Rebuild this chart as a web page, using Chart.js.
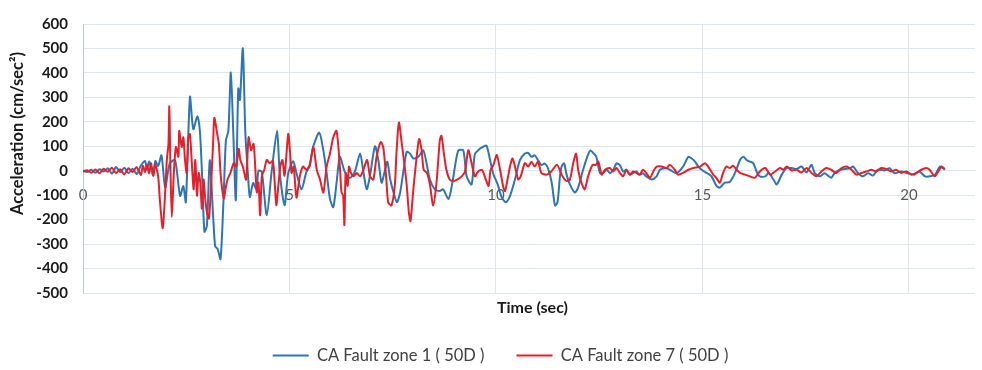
<!DOCTYPE html>
<html>
<head>
<meta charset="utf-8">
<script src="https://cdn.jsdelivr.net/npm/chart.js@4.4.1/dist/chart.umd.min.js"></script>
<style>
  html, body { margin: 0; padding: 0; background: #ffffff; }
  canvas { display: block; }
</style>
</head>
<body>
<canvas id="chart" width="982" height="370"></canvas>
<script>
// Ground-motion records (time in sec, acceleration in cm/sec²)
const seriesNames = ['CA Fault zone 1 ( 50D )', 'CA Fault zone 7 ( 50D )'];

const timeZone1 = [
  0.0, 0.1, 0.2, 0.3, 0.4, 0.5, 0.6, 0.7, 0.8, 0.9, 1.0, 1.1, 1.2, 1.3, 1.4, 1.5, 1.55, 1.6, 1.65, 1.7, 1.75, 1.82,
  1.9, 1.99, 2.1, 2.23, 2.35, 2.43, 2.49, 2.59, 2.67, 2.77, 2.83, 2.88, 2.94, 3.0, 3.07, 3.15, 3.2, 3.26, 3.33,
  3.4, 3.46, 3.52, 3.58, 3.64, 3.7, 3.76, 3.8, 3.87, 3.93, 4.0, 4.04, 4.12, 4.2, 4.25, 4.33, 4.45, 4.57, 4.7,
  4.76, 4.88, 4.97, 5.09, 5.17, 5.29, 5.41, 5.49, 5.57, 5.72, 5.82, 5.9, 5.98, 6.06, 6.14, 6.22, 6.34, 6.46,
  6.58, 6.71, 6.79, 6.87, 6.95, 7.07, 7.15, 7.23, 7.31, 7.37, 7.44, 7.52, 7.6, 7.68, 7.76, 7.84, 7.92, 8.0,
  8.12, 8.24, 8.32, 8.4, 8.52, 8.64, 8.72, 8.85, 8.93, 9.01, 9.09, 9.21, 9.29, 9.41, 9.49, 9.61, 9.69, 9.77,
  9.85, 9.93, 10.05, 10.14, 10.24, 10.34, 10.46, 10.58, 10.7, 10.78, 10.86, 10.94, 11.02, 11.1, 11.18, 11.26,
  11.35, 11.43, 11.49, 11.55, 11.59, 11.65, 11.71, 11.79, 11.91, 11.99, 12.11, 12.21, 12.29, 12.37, 12.43,
  12.52, 12.6, 12.68, 12.76, 12.84, 12.92, 13.0, 13.08, 13.16, 13.24, 13.32, 13.4, 13.48, 13.56, 13.64, 13.77,
  13.89, 13.97, 14.13, 14.21, 14.37, 14.53, 14.66, 14.74, 14.82, 14.9, 14.98, 15.1, 15.22, 15.34, 15.42, 15.54,
  15.66, 15.79, 15.91, 15.99, 16.07, 16.15, 16.23, 16.31, 16.39, 16.52, 16.6, 16.72, 16.8, 16.92, 17.04, 17.16,
  17.28, 17.4, 17.52, 17.64, 17.72, 17.84, 17.96, 18.04, 18.12, 18.2, 18.33, 18.45, 18.57, 18.65, 18.77, 18.89,
  19.01, 19.13, 19.25, 19.41, 19.53, 19.65, 19.81, 19.97, 20.13, 20.25, 20.39, 20.51, 20.63, 20.75, 20.83, 20.87
];
const accZone1 = [
  0, -5, 4, -8, 6, -3, 10, -12, 15, -6, 12, -10, 8, -14, 20, 40, 5, 38, 10, -20, 40, 20,
  63, -69, 30, 43, -103, -63, -129, 302, 170, 223, 163, -5, -249, -225, 43, -181, -308, -320, -361,
  -129, 123, 163, 402, 150, -120, 336, 290, 500, 160, -30, -108, -50, -76, 0, -5, -182, 0, 163,
  0, -141, -10, 39, -10, -76, -5, 20, 96, 156, 83, -10, -115, -149, -50, 57, -5, -30,
  -5, 70, -5, -76, -20, 100, 45, -49, 0, 37, -36, -89, -129, -89, 0, 77, 70, 50,
  57, 83, 30, -36, -76, -83, -76, -116, -63, 20, 83, 83, -23, -56, 68, 90, 98, 103,
  50, -10, -60, -109, -129, -103, -36, 43, 70, 73, 57, 63, 43, 23, 30, 10,
  -49, -142, -129, -23, 17, 30, -16, -56, -89, -69, 4, 57, 83, 70, 57,
  -10, -10, 4, -10, 4, 30, 23, -3, 4, -16, -10, -3, -16, -10, -23, -36,
  -23, 4, 10, 4, -10, 17, 57, 50, 37, 17, 4, -9, -23, -62, -69, -49,
  -46, -9, 44, 57, 44, 37, 31, -3, -23, -23, -9, -36, -56, -16, 11, 11,
  7, 17, -7, 24, -10, -23, -10, -20, -29, -10, 4, 7, 10, 17, -10, -23,
  -10, -20, 4, 1, 10, -10, -3, -10, -16, -3, -23, -23, -16, 17, 10, 4
];

const timeZone7 = [
  0.0, 0.1, 0.2, 0.3, 0.4, 0.5, 0.6, 0.7, 0.8, 0.9, 1.0, 1.1, 1.2, 1.3, 1.4, 1.45, 1.5, 1.55, 1.6, 1.65, 1.7, 1.75,
  1.82, 1.86, 1.93, 1.99, 2.03, 2.07, 2.09, 2.12, 2.15, 2.2, 2.25, 2.31, 2.33, 2.39, 2.43, 2.47, 2.51, 2.55,
  2.59, 2.64, 2.68, 2.72, 2.76, 2.8, 2.84, 2.88, 2.92, 2.96, 3.0, 3.05, 3.1, 3.15, 3.18, 3.25, 3.29, 3.33,
  3.37, 3.41, 3.45, 3.5, 3.57, 3.65, 3.71, 3.77, 3.81, 3.87, 3.95, 4.01, 4.07, 4.13, 4.17, 4.21, 4.25, 4.29,
  4.33, 4.39, 4.45, 4.52, 4.6, 4.68, 4.72, 4.78, 4.83, 4.88, 4.97, 5.01, 5.05, 5.1, 5.17, 5.25, 5.33, 5.41,
  5.49, 5.58, 5.66, 5.74, 5.82, 5.9, 5.98, 6.06, 6.14, 6.22, 6.26, 6.3, 6.33, 6.36, 6.41, 6.44, 6.49, 6.55,
  6.63, 6.71, 6.79, 6.88, 6.95, 7.03, 7.11, 7.21, 7.27, 7.34, 7.39, 7.47, 7.55, 7.59, 7.65, 7.72, 7.78, 7.84,
  7.89, 7.93, 8.0, 8.08, 8.14, 8.2, 8.25, 8.33, 8.4, 8.48, 8.56, 8.64, 8.68, 8.74, 8.8, 8.88, 8.96, 9.06,
  9.17, 9.25, 9.33, 9.41, 9.49, 9.57, 9.66, 9.74, 9.82, 9.87, 9.94, 10.02, 10.1, 10.18, 10.22, 10.28, 10.34,
  10.4, 10.48, 10.54, 10.6, 10.7, 10.78, 10.86, 10.94, 11.02, 11.1, 11.22, 11.34, 11.48, 11.59, 11.71, 11.79,
  11.87, 11.94, 11.99, 12.07, 12.15, 12.23, 12.34, 12.42, 12.48, 12.56, 12.64, 12.76, 12.84, 12.92, 13.0,
  13.08, 13.16, 13.24, 13.32, 13.4, 13.48, 13.56, 13.64, 13.73, 13.81, 13.89, 14.01, 14.13, 14.21, 14.33,
  14.41, 14.53, 14.66, 14.78, 14.94, 15.06, 15.14, 15.26, 15.34, 15.42, 15.5, 15.58, 15.66, 15.74, 15.83,
  15.91, 16.03, 16.15, 16.27, 16.39, 16.52, 16.64, 16.76, 16.88, 16.96, 17.04, 17.16, 17.28, 17.4, 17.52,
  17.64, 17.76, 17.88, 18.0, 18.12, 18.24, 18.37, 18.49, 18.61, 18.73, 18.85, 18.97, 19.09, 19.21, 19.33,
  19.45, 19.57, 19.69, 19.81, 19.94, 20.06, 20.18, 20.3, 20.42, 20.5, 20.63, 20.71, 20.79, 20.87
];
const accZone7 = [
  -3, 2, -8, 5, -10, 8, -4, 12, -10, 6, -15, 10, -5, 15, -18, 20, -5, 25, -10, 30, -20, 25,
  -23, -116, -235, -89, 44, 110, 263, -9, -189, -9, 97, 57, 163, 97, 137, 44, -9, 137,
  150, 17, -76, 44, -102, -9, -49, -155, -36, -116, -169, -195, -62, 110, 216, 150, 110, -9,
  -76, -116, -76, -36, -9, 31, 17, 90, 44, 17, -36, 137, 84, 110, 17, -89, -49, -182,
  -23, 4, 44, 31, 40, -140, -80, 20, 44, -20, 150, 84, -9, 17, -110, -23, 17, 4,
  24, 97, 4, -36, -89, 17, 70, 137, 163, 17, -89, -102, -222, -9, -62, 17, -9, -23,
  -9, -23, 4, 44, -23, -36, 57, 117, 97, -23, -129, -142, -62, 70, 197, 110, 31, -62,
  -169, -206, -76, 57, 130, 84, 4, -9, -56, -142, -49, 124, 143, 70, 4, -36, -42, -36,
  -23, -3, 84, 31, -23, -3, 4, -29, -62, 4, 24, 64, 4, -69, -83, -36, 17,
  50, 4, -36, -23, 31, 17, 37, 17, 37, -9, -16, -3, 24, -16, -42, -36,
  31, 70, 4, -49, -76, -23, 24, 24, 37, -16, 4, 11, -3, 11, -9,
  -23, 4, -16, -3, -9, -16, 4, -9, -29, -3, 17, 17, 11, 24, 4,
  -16, -9, 4, 11, 17, 31, 17, -16, -30, -49, -9, 17, 11, 20, 4,
  -9, -16, -23, -29, -3, 11, -16, -3, 11, 4, 17, 1, 4, -7, 11,
  -9, -23, -3, 11, 4, -9, 11, 17, 4, -16, -9, -3, 4, -3, 11,
  7, -3, 4, -9, -3, -16, -9, 4, 11, 4, -23, -3, 17, 7
];

const timeTicks = [0, 5, 10, 15, 20];
const accelerationTicks = [-500, -400, -300, -200, -100, 0, 100, 200, 300, 400, 500, 600];

const toPoints = (ts, vs) => ts.map((t, i) => ({ x: t, y: vs[i] }));

const BLUE = '#2e75b6';
const RED = '#e5202a';
const GRID = '#dfe5ec';

// Extra layout: vertical axis caption and small offsets for the bottom caption and legend
const captionPlugin = {
  id: 'captions',
  afterLayout(chart) {
    const lg = chart.legend;
    if (lg) { lg.left += 13; lg.right += 13; lg.top -= 1; lg.bottom -= 1; }
    const tb = chart.titleBlock;
    if (tb) { tb.left += 45; tb.right += 45; tb.top += 1.5; tb.bottom += 1.5; }
  },
  afterDraw(chart) {
    const { ctx, chartArea } = chart;
    ctx.save();
    ctx.translate(18, (chartArea.top + chartArea.bottom) / 2 - 25);
    ctx.rotate(-Math.PI / 2);
    ctx.font = 'bold 16.5px Lato';
    ctx.fillStyle = '#1a1a1a';
    ctx.textAlign = 'center';
    ctx.textBaseline = 'middle';
    ctx.fillText('Acceleration (cm/sec²)', 0, 0);
    ctx.restore();
  }
};

new Chart(document.getElementById('chart'), {
  type: 'line',
  data: {
    datasets: [
      {
        label: seriesNames[0],
        data: toPoints(timeZone1, accZone1),
        borderColor: BLUE,
        backgroundColor: BLUE,
        borderWidth: 2,
        pointRadius: 0,
        tension: 0.25,
        order: 1
      },
      {
        label: seriesNames[1],
        data: toPoints(timeZone7, accZone7),
        borderColor: RED,
        backgroundColor: RED,
        borderWidth: 2,
        pointRadius: 0,
        tension: 0.25,
        order: 0
      }
    ]
  },
  options: {
    responsive: false,
    animation: false,
    layout: { padding: { top: 17, right: 7, bottom: 0, left: 0 } },
    scales: {
      x: {
        type: 'linear',
        min: 0,
        max: 21.6,
        position: { y: 0 },
        afterBuildTicks: (s) => { s.ticks = timeTicks.map((v) => ({ value: v })); },
        grid: { color: GRID, lineWidth: 1, drawTicks: false },
        border: { color: GRID, width: 1 },
        ticks: {
          font: { family: 'Lato', size: 15 },
          color: '#595959',
          padding: 15,
          maxRotation: 0,
          autoSkip: false
        }
      },
      y: {
        type: 'linear',
        min: -500,
        max: 600,
        afterBuildTicks: (s) => { s.ticks = accelerationTicks.map((v) => ({ value: v })); },
        afterFit: (s) => { s.width = 83; },
        grid: { color: GRID, lineWidth: 1, drawTicks: false },
        border: { color: '#bcc8d4', width: 1 },
        ticks: {
          font: { family: 'Lato', size: 15, weight: 'bold' },
          color: '#1a1a1a',
          padding: 15
        }
      }
    },
    plugins: {
      title: {
        display: true,
        text: 'Time (sec)',
        position: 'bottom',
        weight: 500,
        font: { family: 'Lato', size: 16, weight: 'bold' },
        color: '#1a1a1a',
        padding: { top: 4, bottom: 0 }
      },
      legend: {
        position: 'bottom',
        maxHeight: 53.8,
        labels: {
          usePointStyle: true,
          pointStyle: 'line',
          pointStyleWidth: 36,
          padding: 32,
          font: { family: 'Lato', size: 16.5 },
          color: '#404040',
          sort: (a, b) => a.datasetIndex - b.datasetIndex
        }
      },
      tooltip: { enabled: false }
    }
  },
  plugins: [captionPlugin]
});
</script>
</body>
</html>
